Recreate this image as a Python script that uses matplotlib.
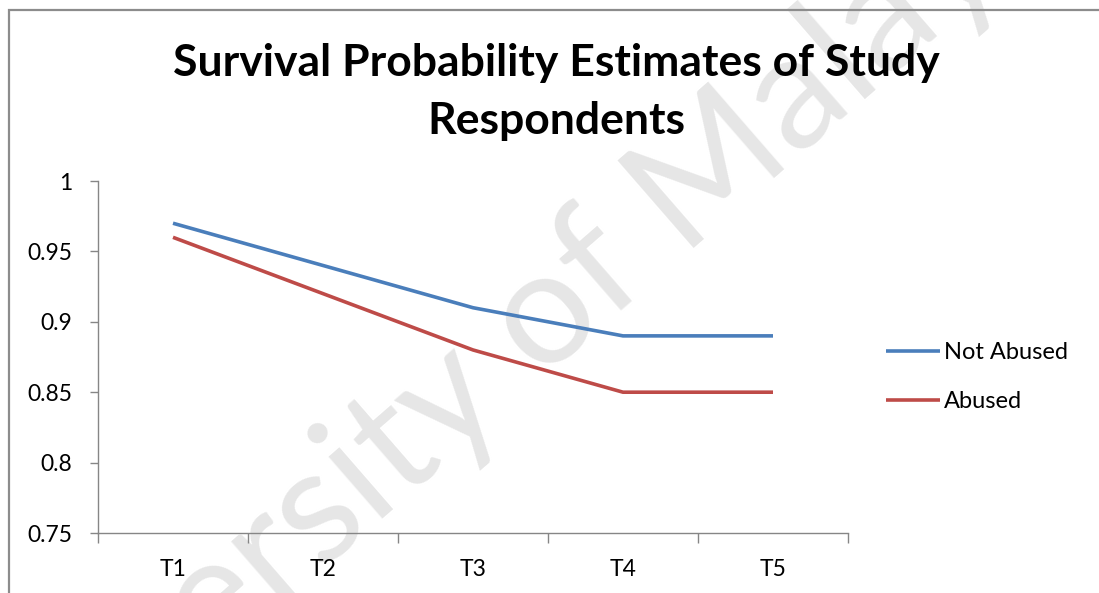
import matplotlib.pyplot as plt
from matplotlib.patches import Rectangle

periods = ["T1", "T2", "T3", "T4", "T5"]
not_abused = [0.97, 0.94, 0.91, 0.89, 0.89]
abused = [0.96, 0.92, 0.88, 0.85, 0.85]

plt.rcParams['font.family'] = ['Lato', 'DejaVu Sans']

W, H = 1099, 593
fig = plt.figure(figsize=(W / 100, H / 100), dpi=100)

# outer chart border (right and bottom run off the image)
fig.patches.append(Rectangle((9 / W, -0.1), 1.2, 1 - 10 / H + 0.1, transform=fig.transFigure,
                             fill=False, edgecolor='#8c8c8c', linewidth=1.6, zorder=5))

# faint diagonal watermark behind the plot
fig.text(516 / W, 1 - 402 / H, "University of Malaya", rotation=41, rotation_mode='anchor',
         ha='center', va='baseline', fontsize=116, color='#e6e6e6', zorder=-1)

ax = fig.add_axes([98 / W, 1 - 533 / H, 750 / W, 352 / H])
ax.patch.set_alpha(0)

x = list(range(len(periods)))
ax.plot(x, not_abused, color='#4A7EBB', linewidth=2.6, label="Not Abused", solid_joinstyle='round',
        solid_capstyle='butt')
ax.plot(x, abused, color='#BE4B48', linewidth=2.6, label="Abused", solid_joinstyle='round',
        solid_capstyle='butt')

ax.set_xlim(-0.5, len(periods) - 0.5)
ax.set_ylim(0.75, 1.0)
ax.set_yticks([0.75, 0.8, 0.85, 0.9, 0.95, 1.0])
ax.set_yticklabels(["0.75", "0.8", "0.85", "0.9", "0.95", "1"])

ax.set_xticks([i - 0.5 for i in range(len(periods) + 1)])
ax.set_xticklabels([])
ax.set_xticks(x, minor=True)
ax.set_xticklabels(periods, minor=True)
ax.tick_params(axis='x', which='minor', length=0, pad=19, labelsize=16.5)
ax.tick_params(axis='x', which='major', length=7, color='#868686', width=1)
ax.tick_params(axis='y', length=5.5, color='#868686', width=1, pad=13, labelsize=16.5)

for side in ['top', 'right']:
    ax.spines[side].set_visible(False)
for side in ['left', 'bottom']:
    ax.spines[side].set_color('#868686')
    ax.spines[side].set_linewidth(1)

fig.text(556 / W, 1 - 92 / H, "Survival Probability Estimates of Study\nRespondents",
         ha='center', va='center', fontsize=32, fontweight='bold', linespacing=1.52)

ax.legend(loc='center left', bbox_to_anchor=(886 / W, 1 - 377 / H), bbox_transform=fig.transFigure,
          frameon=False, fontsize=17, handlelength=2.3, handletextpad=0.15, labelspacing=1.2,
          borderpad=0, borderaxespad=0)

fig.savefig("out.png", dpi=100)
